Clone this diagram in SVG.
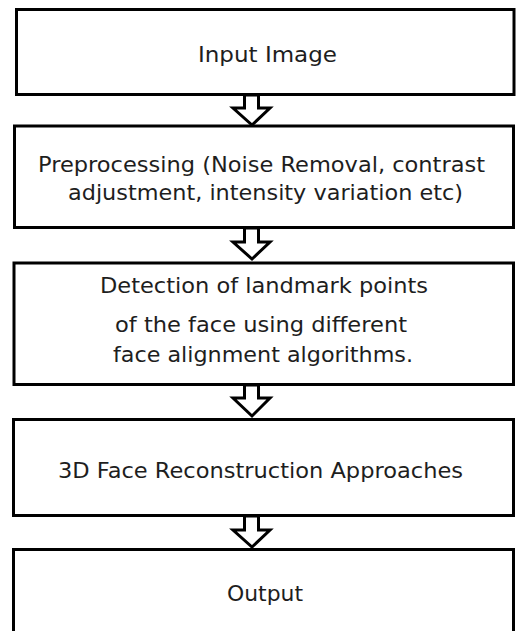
<svg xmlns="http://www.w3.org/2000/svg" width="516" height="631" viewBox="0 0 516 631">
  <style>
    .box { fill: #ffffff; stroke: #000000; stroke-width: 3; }
    .arrow { fill: #ffffff; stroke: #000000; stroke-width: 3; stroke-linejoin: miter; }
    .label { font-family: "DejaVu Sans", Verdana, sans-serif; font-size: 21px; fill: #1e1e1e; text-anchor: middle; }
  </style>
  <rect width="516" height="631" fill="#ffffff"/>

  <!-- connectors: hollow block arrows between consecutive steps -->
  <g id="connectors">
    <polygon class="arrow" points="244.5,95 244.5,108 233,108 252,125 270,108 258.5,108 258.5,95"/>
    <polygon class="arrow" points="244.5,228 244.5,242 233,242 252,259 270,242 258.5,242 258.5,228"/>
    <polygon class="arrow" points="244.5,385 244.5,398 233,398 252,416 270,398 258.5,398 258.5,385"/>
    <polygon class="arrow" points="244.5,516 244.5,530 233,530 252,547 270,530 258.5,530 258.5,516"/>
  </g>

  <g id="input-image">
    <rect class="box" x="16.5" y="9.5" width="497.5" height="85"/>
    <text class="label" x="267.5" y="62" textLength="139" lengthAdjust="spacingAndGlyphs">Input Image</text>
  </g>

  <g id="preprocessing">
    <rect class="box" x="14.5" y="126" width="499" height="101.5"/>
    <text class="label" x="261.5" y="171.5" textLength="447" lengthAdjust="spacingAndGlyphs">Preprocessing (Noise Removal, contrast</text>
    <text class="label" x="265.5" y="200" textLength="395" lengthAdjust="spacingAndGlyphs">adjustment, intensity variation etc)</text>
  </g>

  <g id="landmark-detection">
    <rect class="box" x="14" y="263" width="499.5" height="121.5"/>
    <text class="label" x="264" y="293" textLength="328" lengthAdjust="spacingAndGlyphs">Detection of landmark points</text>
    <text class="label" x="261" y="332" textLength="292" lengthAdjust="spacingAndGlyphs">of the face using different</text>
    <text class="label" x="263" y="362" textLength="300" lengthAdjust="spacingAndGlyphs">face alignment algorithms.</text>
  </g>

  <g id="reconstruction">
    <rect class="box" x="13.5" y="419.5" width="500" height="96"/>
    <text class="label" x="260.5" y="478" textLength="405" lengthAdjust="spacingAndGlyphs">3D Face Reconstruction Approaches</text>
  </g>

  <g id="output">
    <rect class="box" x="13.5" y="549.5" width="500" height="90"/>
    <text class="label" x="265" y="601" textLength="76" lengthAdjust="spacingAndGlyphs">Output</text>
  </g>
</svg>
